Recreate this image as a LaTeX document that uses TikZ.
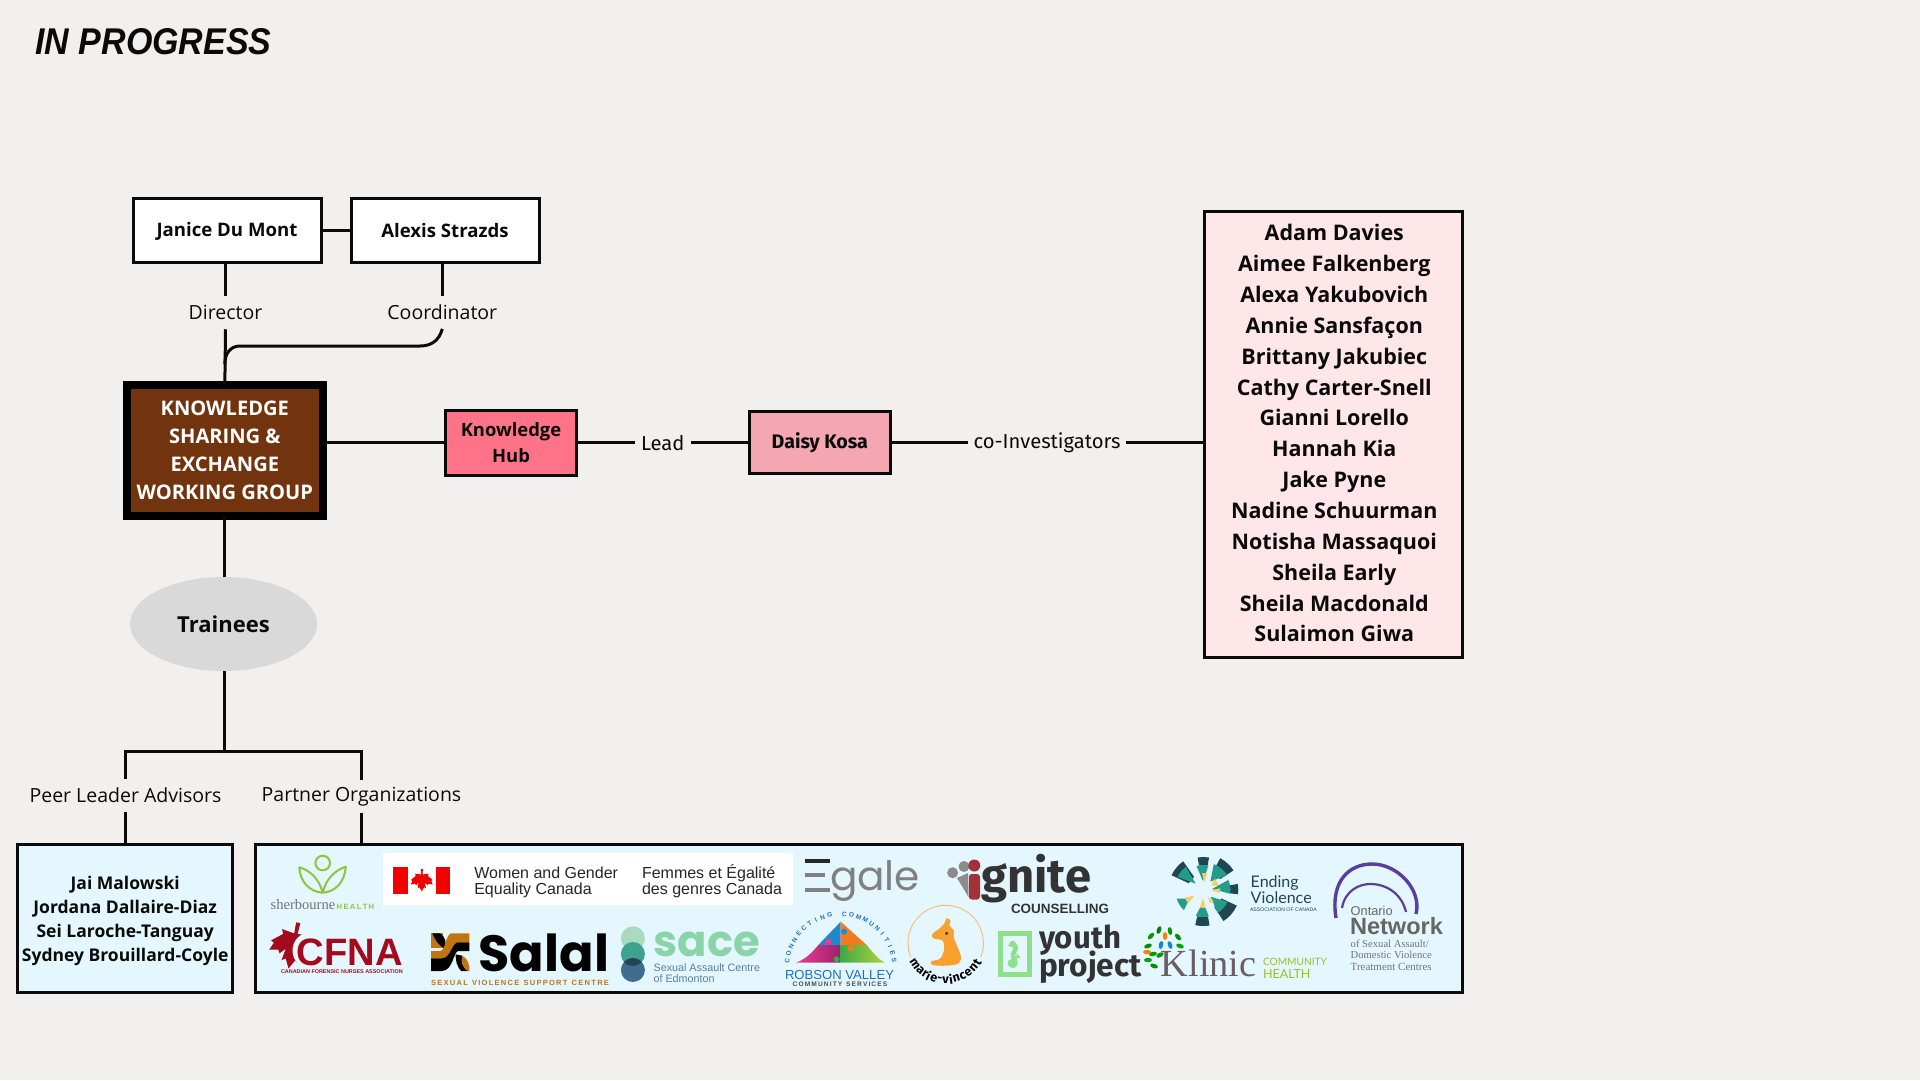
\documentclass[tikz,border=0pt]{standalone}
\usepackage{fontspec}
\usetikzlibrary{calc,shapes.geometric}
\newfontfamily\os{Open Sans}
\newfontfamily\lib{Liberation Sans}
\newfontfamily\libs{Liberation Serif}
\newfontfamily\fira{Fira Sans}
\newfontfamily\pop{Poppins}
\newfontfamily\lat{Lato}
\newcommand{\fsz}[2]{\fontsize{#1}{#2}\selectfont}
\newcommand{\fw}[2]{\resizebox{#1pt}{!}{#2}}
\definecolor{bgc}{HTML}{F2F0EE}
\definecolor{kse}{HTML}{71340E}
\definecolor{hubc}{HTML}{FF7388}
\definecolor{daisyc}{HTML}{F4A6B1}
\definecolor{coinvc}{HTML}{FFE6E9}
\definecolor{bluec}{HTML}{E4F7FF}
\definecolor{grayc}{HTML}{D9D9D9}
\definecolor{inkc}{HTML}{0A0A0A}
\definecolor{sherg}{HTML}{8CC63F}
\definecolor{cfnar}{HTML}{A50A1C}
\definecolor{salo}{HTML}{C4740F}
\definecolor{evd}{HTML}{1F4753}
\definecolor{evt}{HTML}{249B8B}
\definecolor{evy}{HTML}{F6CF62}
\definecolor{purp}{HTML}{5A3E9E}
\definecolor{kang}{HTML}{F9A12E}
\definecolor{rob}{HTML}{1F6FC0}
\definecolor{yth}{HTML}{8FE08A}
\definecolor{sac1c}{HTML}{A9DABC}
\definecolor{sac2c}{HTML}{3FA18F}
\definecolor{sac3c}{HTML}{3F6C8F}
\definecolor{sact}{HTML}{8BD3A8}
\definecolor{sacb}{HTML}{5A7F9F}
\definecolor{klin}{HTML}{6B5E62}
\definecolor{klg}{HTML}{9CBF2E}
\definecolor{rbm}{HTML}{E93E8F}
\definecolor{rbm2}{HTML}{A01F6F}
\definecolor{rbg}{HTML}{3DAA4A}
\definecolor{rbg2}{HTML}{B5D334}
\definecolor{rbo}{HTML}{F47A20}
\definecolor{rbb}{HTML}{1E88D0}
\definecolor{ignr}{HTML}{A4303A}
\newcommand{\mapleleaf}[5]{% cx cy scale rotate colour
  \fill[#5,shift={(#1,#2)},rotate=#4,x=#3pt,y=-#3pt]
  (0,1)--(.2,.62)--(.36,.72)--(.28,.22)--(.5,.46)--(.58,.32)--(.95,.4)--(.82,.08)--(.95,.0)--(.52,-.36)--(.6,-.55)--(.07,-.48)--(.09,-.95)--(-.09,-.95)--(-.07,-.48)--(-.6,-.55)--(-.52,-.36)--(-.95,.0)--(-.82,.08)--(-.95,.4)--(-.58,.32)--(-.5,.46)--(-.28,.22)--(-.36,.72)--(-.2,.62)--cycle;}
\newcommand{\sect}[5]{% colour a1 a2 r1 r2
  \fill[#1] (#2:#4) arc[start angle=#2,end angle=#3,radius=#4] -- (#3:#5) arc[start angle=#3,end angle=#2,radius=#5] -- cycle;}
\newcommand{\tipray}[5]{% colour a hw r1 r2
  \fill[#1] (#2:#4) -- ({#2-#3}:#5) arc[start angle={#2-#3},end angle={#2+#3},radius=#5] -- cycle;}
\tikzset{
  lk/.style={line width=3pt,draw=inkc},
  lkthin/.style={line width=2.6pt,draw=inkc},
  boxst/.style={rectangle,draw=inkc,line width=3pt,inner sep=0pt,outer sep=0pt,align=center,text=inkc},
  lbl/.style={inner sep=0pt,outer sep=0pt,text=inkc,font=\os\fsz{19.5}{22}},
  lbf/.style={inner sep=0pt,outer sep=0pt,text=inkc,font=\fira\fsz{20.2}{22}},
  logo/.style={inner sep=0pt,outer sep=0pt,anchor=base west},
  plain/.style={inner sep=0pt,outer sep=0pt,align=center,text=inkc},
}
\begin{document}
\begin{tikzpicture}[x=1pt,y=-1pt]
\useasboundingbox (0,0) rectangle (1920,1080);
\fill[bgc] (0,0) rectangle (1920,1080);
% title
\node[logo,text=inkc] (title) at (35.5,54.3) {\resizebox{236pt}{26pt}{\lib\bfseries\itshape IN PROGRESS}};
% boxes
\node[boxst,fill=white,minimum width=188,minimum height=64] (janice) at (227,230.2) {};
\node[plain,font=\os\bfseries\fsz{18.6}{22}] (janicet) at (227,231.6) {Janice Du Mont};
\node[boxst,fill=white,minimum width=188,minimum height=64,font=\os\bfseries\fsz{18.6}{22}] (alexis) at (445,230.2) {Alexis Strazds};
\node[boxst,fill=kse,draw=black,line width=8pt,minimum width=196.3,minimum height=131,text=white,font=\os\bfseries\fsz{20.1}{28}] (ksew) at (224.85,450.5) {KNOWLEDGE\\SHARING \&\\EXCHANGE\\WORKING GROUP};
\node[boxst,fill=hubc,minimum width=130.7,minimum height=65,font=\os\bfseries\fsz{18.4}{26}] (hub) at (511,442.7) {Knowledge\\Hub};
\node[boxst,fill=daisyc,minimum width=140.5,minimum height=62.5,font=\fira\bfseries\fsz{19.6}{22}] (daisy) at (819.8,442.7) {Daisy Kosa};
\node[boxst,fill=coinvc,minimum width=258,minimum height=446] (coinv) at (1333.8,434.5) {};
\node[plain,font=\os\bfseries\fsz{21.5}{30.85}] (coinvt) at (1334.3,433.3) {Adam Davies\\Aimee Falkenberg\\Alexa Yakubovich\\Annie Sansfaçon\\Brittany Jakubiec\\Cathy Carter-Snell\\Gianni Lorello\\Hannah Kia\\Jake Pyne\\Nadine Schuurman\\Notisha Massaquoi\\Sheila Early\\Sheila Macdonald\\Sulaimon Giwa};
\node[ellipse,fill=grayc,inner sep=0pt,outer sep=0pt,minimum width=187,minimum height=94,text=inkc,font=\os\bfseries\fsz{22}{26}] (train) at (223.5,624) {Trainees};
\node[boxst,fill=bluec,minimum width=214.5,minimum height=148] (peers) at (125.2,918.5) {};
\node[plain,font=\os\bfseries\fsz{17.5}{24}] (peerst) at (125.2,921) {Jai Malowski\\Jordana Dallaire-Diaz\\Sei Laroche-Tanguay\\Sydney Brouillard-Coyle};
\node[boxst,fill=bluec,minimum width=1207,minimum height=148] (partners) at (858.5,918.5) {};
% labels
\node[lbl,minimum height=33.3] (ldir) at (225.5,312.6) {Director};
\node[lbl,minimum height=33.3] (lcoord) at (442.3,312.2) {Coordinator};
\node[lbf,minimum width=55.5] (llead) at (662.8,442.7) {Lead};
\node[lbf,minimum width=158] (lcoinv) at (1047,442.7) {co-Investigators};
\node[lbl,minimum height=32.7] (lpeer) at (125.5,795.3) {Peer Leader Advisors};
\node[lbl,minimum height=32.7] (lpart) at (361.5,796.5) {Partner Organizations};
% connectors
\coordinate (jl) at (125.5,751.7);
\coordinate (jr) at (361.5,751.7);
\coordinate (bend1) at (420,346);
\coordinate (bend2) at (240,346);
\draw[lk] (janice.east) -- (alexis.west);
\draw[lk] (ldir.north |- janice.south) -- (ldir.north);
\draw[lk] (ldir.south) -- (ksew.north);
\draw[lk] (lcoord.north |- alexis.south) -- (lcoord.north);
\draw[lk] (lcoord.south) .. controls ++(-3,11) and ++(12,0) .. (bend1) -- (bend2) .. controls ++(-10,0) and ++(0,-10) .. ($(ksew.north)+(0,-21)$);
\draw[lkthin] (ksew.east |- hub.west) -- (hub.west);
\draw[lkthin] (hub.east) -- (llead.west);
\draw[lkthin] (llead.east) -- (daisy.west);
\draw[lkthin] (daisy.east) -- (lcoinv.west);
\draw[lkthin] (lcoinv.east) -- (lcoinv.east -| coinv.west);
\draw[lk] (ksew.south) -- (ksew.south |- train.north);
\draw[lk] (ksew.south |- train.south) -- (ksew.south |- jl);
\draw[lk,line cap=rect] (jl) -- (jr);
\draw[lk] (jl) -- (lpeer.north);
\draw[lk] (jr) -- (lpart.north);
\draw[lk] (lpeer.south) -- (lpeer.south |- peers.north);
\draw[lk] (lpart.south) -- (lpart.south |- partners.north);
% --- sherbourne
\draw[sherg,line width=2pt] (322.7,863) circle[radius=7.3];
\draw[sherg,line width=2pt,line join=round] (322.7,892.7) .. controls (319,878) and (309,870) .. (299.3,867.3) .. controls (300,882) and (310,892) .. (322.7,892.7) .. controls (335,892) and (345,882) .. (345.7,866.7) .. controls (336,870) and (326,878) .. (322.7,892.7);
\node[logo,text=black!55] (sher) at (270.7,909.3) {\fw{64.5}{\libs sherbourne}};
\node[logo,text=sherg] (sherh) at (336.7,909.3) {\fw{37.6}{\lib\bfseries H\,E\,A\,L\,T\,H}};
% --- canada
\fill[white] (383.3,853.3) rectangle (793,905);
\fill[red!95!black] (393.3,866.7) rectangle (407.7,894.3);
\fill[red!95!black] (436,866.7) rectangle (450,894.3);
\mapleleaf{421.8}{880}{11.5}{0}{red!95!black}
\node[logo,text=black!85] (wg1) at (474.3,878) {\fw{143.7}{\lib Women and Gender}};
\node[logo,text=black!85] (wg2) at (474.3,894.5) {\lib\fsz{16}{18}Equality Canada};
\node[logo,text=black!85] (wg3) at (642,878) {\lib\fsz{16}{18}Femmes et Égalité};
\node[logo,text=black!85] (wg4) at (642,894.5) {\fw{140}{\lib des genres Canada}};
% --- egale
\fill[black!85] (805,858.5) rectangle (830,862.5);
\fill[black!50] (805,873) rectangle (825,877);
\fill[black!50] (805,888) rectangle (830,892);
\node[logo,text=black!50] (egale) at (830,890.5) {\fw{90}{\pop gale}};
% --- ignite
\fill[black!45] (952.6,872.7) circle[radius=5.5];
\fill[black!45] (964,866.5) circle[radius=5.5];
\fill[black!45] (957,878) -- (968,873) -- (968.5,897) -- cycle;
\fill[ignr] (974.3,865.5) circle[radius=6];
\fill[ignr,rounded corners=3pt] (968.8,874) rectangle (980,899.5);
\node[logo,text=black!80] (ign) at (981,892) {\fw{110}{\fira\bfseries gnite}};
\node[logo,text=black!80] (igc) at (1011,913) {\fw{98}{\lib\bfseries COUNSELLING}};
% --- ending violence
\begin{scope}[shift={(1203.3,890)},y=1pt]
\sect{evd}{80}{100}{25}{33}
\tipray{evt}{92}{14}{9}{25}
\tipray{evy}{85}{9}{8}{17}
\sect{evd}{33}{62}{20}{36}
\tipray{evt}{50}{18}{11}{28}
\tipray{evy}{30}{14}{9}{16}
\sect{evd}{-7}{10}{27}{35}
\tipray{evt}{7}{15}{9}{27}
\tipray{evy}{-2}{8}{8}{17}
\sect{evd}{-57}{-25}{20}{37}
\tipray{evt}{-42}{16}{10}{27}
\tipray{evy}{-55}{8}{8}{15}
\sect{evd}{-103}{-80}{27}{36}
\tipray{evt}{-92}{14}{12}{27}
\tipray{evy}{-92}{9}{8}{18}
\tipray{evt}{-148}{14}{16}{28}
\tipray{evy}{-148}{9}{10}{20}
\sect{evd}{125}{155}{16}{35}
\tipray{evt}{140}{13}{10}{29}
\end{scope}
\node[logo,text=evd] (ev1) at (1250.7,887.7) {\fw{48}{\lat Ending}};
\node[logo,text=evd] (ev2) at (1250.7,903.3) {\fw{61}{\lat Violence}};
\node[logo,text=evd] (ev3) at (1250,911.7) {\fw{66.7}{\lib ASSOCIATION OF CANADA}};
% --- ontario network
\draw[purp,line width=3.4pt] (1336,918) .. controls (1330,880) and (1350,864) .. (1372,864) .. controls (1398,864) and (1422,890) .. (1416,914);
\draw[purp,line width=2.2pt] (1342,908) .. controls (1345,890) and (1360,884) .. (1370,884) .. controls (1388,884) and (1402,895) .. (1406,912);
\node[logo,text=black!60] (on1) at (1350.7,915) {\fw{42}{\lib Ontario}};
\node[logo,text=black!60] (on2) at (1350,934) {\fw{93}{\lib\bfseries Network}};
\node[logo,text=black!55] (on3) at (1350.7,947) {\fw{78}{\libs of Sexual Assault/}};
\node[logo,text=black!55] (on4) at (1350.7,958.5) {\fw{81}{\libs Domestic Violence}};
\node[logo,text=black!55] (on5) at (1350.7,970) {\fw{81}{\libs Treatment Centres}};
% --- CFNA
\mapleleaf{293.5}{945}{24}{-12}{cfnar}
\fill[bluec] (311,950.5) circle[radius=18.5];
\node[logo,text=cfnar] (cfna) at (296.7,965.7) {\fw{106}{\lib\bfseries CFNA}};
\node[logo,text=cfnar] (cfnat) at (281,973.6) {\fw{121.7}{\lib\bfseries CANADIAN FORENSIC NURSES ASSOCIATION}};
% --- salal
\begin{scope}[shift={(425,925)},x=.3333pt,y=-.3333pt]
\fill[salo] (18,25) rectangle (55,70);
\fill[black] (22,25) -- (45,25) .. controls (62,35) and (65,55) .. (60,72) .. controls (42,62) and (30,45) .. cycle;
\fill[salo] (18,78) -- (45,78) .. controls (62,78) and (62,25) .. (80,25) -- (133,25) -- (133,52) -- (100,52) .. controls (80,52) and (78,100) .. (50,100) -- (18,100) -- cycle;
\fill[black] (133,52) -- (133,78) -- (100,78) .. controls (85,78) and (85,138) .. (50,138) -- (18,138) -- (18,100) -- (50,100) .. controls (78,100) and (80,52) .. (100,52) -- cycle;
\fill[black] (92,88) -- (112,92) .. controls (106,110) and (115,130) .. (128,138) -- (108,138) .. controls (96,125) and (91,105) .. cycle;
\fill[salo] (112,92) .. controls (128,100) and (135,120) .. (133,138) -- (128,138) .. controls (115,130) and (106,110) .. cycle;
\end{scope}
\node[logo,text=black] (salal) at (478.6,971.7) {\fw{130.4}{\pop\bfseries Salal}};
\node[logo,text=salo] (salt) at (431,985.7) {\fw{178}{\lib\bfseries S\,E\,X\,U\,A\,L\ \ V\,I\,O\,L\,E\,N\,C\,E\ \ S\,U\,P\,P\,O\,R\,T\ \ C\,E\,N\,T\,R\,E}};
% --- sace
\fill[sac1c] (632.9,938.3) circle[radius=12];
\fill[sac2c] (632.9,954) circle[radius=12];
\fill[sac3c] (632.9,970) circle[radius=12];
\begin{scope}
\clip (632.9,954) circle[radius=12];
\fill[sac3c!60!black] (632.9,970) circle[radius=12];
\end{scope}
\node[logo,text=sact] (sace) at (653.6,956.7) {\fw{106.4}{\pop\bfseries sace}};
\node[logo,text=sacb] (sac1) at (653.6,971) {\fw{106.4}{\lib Sexual Assault Centre}};
\node[logo,text=sacb] (sac2) at (653.6,982) {\fw{61}{\lib of Edmonton}};
% --- robson valley
\begin{scope}[shift={(770,900)},x=.3333pt,y=-.3333pt]
\fill[rbb] (212,65) -- (212,135) -- (145,135) -- cycle;
\fill[rbo] (212,65) -- (290,135) -- (212,135) -- cycle;
\shade[left color=rbm,right color=rbm2] (145,135) -- (212,135) -- (212,188) -- (78,188) .. controls (105,178) and (125,160) .. cycle;
\shade[left color=rbg,right color=rbg2] (212,135) -- (290,135) .. controls (310,160) and (325,178) .. (345,188) -- (212,188) -- cycle;
\fill[rbm] (175,125) circle[radius=9];
\fill[rbb] (222,95) circle[radius=9];
\fill[rbo] (242,145) circle[radius=9];
\fill[rbg] (200,178) circle[radius=9];
\end{scope}
\begin{scope}[shift={(840.7,968)},y=1pt]
\foreach \ch [count=\i] in {C,O,N,N,E,C,T,I,N,G,{},C,O,M,M,U,N,I,T,I,E,S}{
  \pgfmathsetmacro{\ang}{172-(\i-1)*7.8}
  \pgfmathsetmacro{\rot}{\ang-90}
  \node[inner sep=0pt,text=rob,rotate=\rot,font=\lib\bfseries\fsz{6.5}{7}] (cc\i) at (\ang:54) {\ch};
}
\end{scope}
\node[logo,text=rob] (rob1) at (785,979) {\fw{109}{\lib ROBSON VALLEY}};
\node[logo,text=black!70] (rob2) at (792.7,986.7) {\fw{94.6}{\lib\bfseries C\,O\,M\,M\,U\,N\,I\,T\,Y\ \ S\,E\,R\,V\,I\,C\,E\,S}};
% --- marie-vincent
\begin{scope}[shift={(945.7,943)},y=1pt]
\draw[orange!55,line width=.9pt] (-22:37.7) arc[start angle=-22,end angle=202,radius=37.7];
\foreach \ch/\c [count=\i] in {m/.7,a/1.9,r/2.75,i/3.35,e/4.1,-/4.95,v/5.8,i/6.55,n/7.33,c/8.3,e/9.25,n/10.28,t/11.15}{
  \pgfmathsetmacro{\ang}{-154+\c*11}
  \pgfmathsetmacro{\rot}{\ang+90}
  \node[inner sep=0pt,text=black,rotate=\rot,font=\fira\bfseries\fsz{12.5}{14}] (mv\i) at (\ang:37) {\ch};
}
\end{scope}
\begin{scope}[shift={(770,900)},x=.3333pt,y=-.3333pt]
\fill[kang] plot[smooth cycle,tension=.55] coordinates {(522,72) (530,55) (542,62) (538,76) (552,92) (552,115) (572,165) (566,190) (530,197) (487,195) (484,184) (510,176) (522,150) (518,122) (490,115) (487,102) (505,88)};
\fill[black!80] (530,100) circle[radius=5];
\end{scope}
% --- youth project
\draw[yth,line width=5pt] (1000.8,933.5) rectangle (1029.2,974.2);
\begin{scope}[shift={(990,920)},x=.3333pt,y=-.3333pt]
\draw[yth,line width=4.6pt,line cap=round] (72,74) .. controls (88,90) and (60,95) .. (72,115) .. controls (82,130) and (72,142) .. (63,135) .. controls (56,128) and (62,122) .. (68,127);
\fill[yth] (68,72) circle[radius=10];
\fill[yth] (52,78) -- (64,68) -- (66,80) -- cycle;
\fill[yth] (80,100) -- (92,112) -- (78,116) -- cycle;
\end{scope}
\node[logo,text=black!80] (yp1) at (1039,948) {\fw{82}{\fira\bfseries youth}};
\node[logo,text=black!80] (yp2) at (1039,976.7) {\fw{102.7}{\fira\bfseries project}};
% --- klinic
\foreach \xa/\ya/\rr/\cc in {1148/946/20/green!55!black,1151/936/45/green!60!black,1159/930/70/green!50!black,1170/931/100/green!60!black,1178/937/130/green!55!black,1180/946/160/green!65!black,1165/936/90/orange,1161/945/80/cyan!70!blue,1170/945/110/cyan!70!blue,1153/954/10/green!60!black,1148/960/0/green!65!black,1154/966/-20/green!55!black,1160/955/30/green!60!black,1147/952/0/orange}{
  \fill[\cc] (\xa,\ya) ellipse[x radius=4,y radius=2.2,rotate=\rr];
}
\node[logo,text=klin] (kl) at (1160.8,976.7) {\fw{95.8}{\libs Klinic}};
\node[logo,text=klg] (kl1) at (1263,965.5) {\fw{64}{\lat COMMUNITY}};
\node[logo,text=klg] (kl2) at (1263,978) {\lat\fsz{12.5}{14}HEALTH};
\end{tikzpicture}
\end{document}
